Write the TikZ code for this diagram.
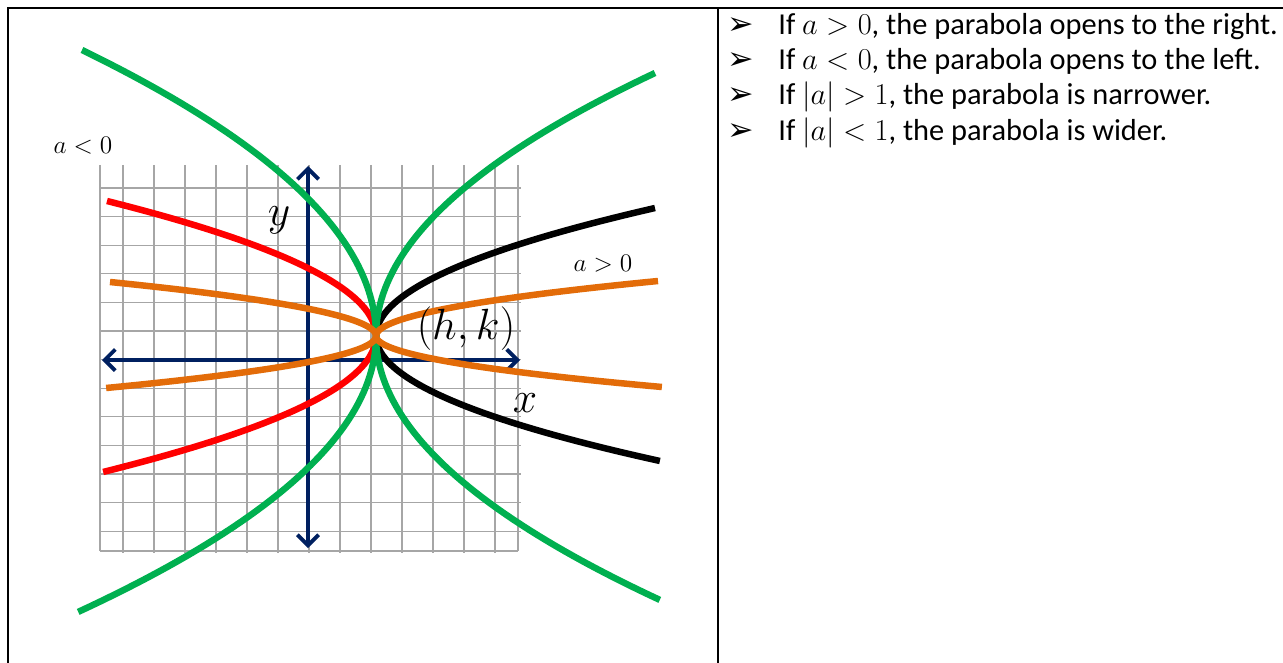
\documentclass[tikz,border=0pt]{standalone}
\usepackage{fontspec}
\setmainfont{Carlito}
\newfontfamily\dejavu{DejaVu Sans}
\usetikzlibrary{arrows.meta,positioning}
\tikzset{>=Stealth}
\definecolor{gridgray}{HTML}{A6A6A6}
\definecolor{axisnavy}{HTML}{002060}
\definecolor{curvegreen}{HTML}{00B050}
\definecolor{curvered}{HTML}{FF0000}
\definecolor{curveorange}{HTML}{E36C09}

\begin{document}
\begin{tikzpicture}[
    x=0.02cm, y=-0.02cm,
    tableline/.style={line width=1.5pt, line cap=rect},
    gridline/.style={draw=gridgray, line width=0.6pt},
    axis/.style={draw=axisnavy, line width=2.2pt, {Straight Barb[length=6pt,width=12pt]}-{Straight Barb[length=6pt,width=12pt]}},
    curve/.style={line width=3.7pt, line join=round},
    biglabel/.style={font=\fontsize{27}{30}\selectfont, inner sep=0pt},
    smalllabel/.style={font=\fontsize{14}{16}\selectfont, inner sep=0pt},
    bullet/.style={font=\dejavu\fontsize{18}{20}\selectfont, anchor=base, inner sep=0pt},
    rowtext/.style={font=\fontsize{17.3}{20}\selectfont, anchor=base west, inner sep=0pt}
]
    \useasboundingbox (0,0) rectangle (1283,662);

    % table frame
    \draw[tableline] (8,670) -- (8,8) -- (1290,8);
    \draw[tableline] (718,8) -- (718,670);

    % grid
    \foreach \gx in {0,...,12}
        \draw[gridline] ({123+31*\gx},165) -- ({123+31*\gx},553);
    \draw[gridline] (100,165) -- (100,551);
    \draw[gridline] (518,165) -- (518,551);
    \foreach \gy in {0,...,12}
        \draw[gridline] (100,{188+28.6*\gy}) -- (521,{188+28.6*\gy});
    \draw[gridline] (100,551) -- (518,551);

    % axes
    \coordinate (xl) at (102,360);
    \coordinate (xr) at (520,360);
    \coordinate (yt) at (308,166);
    \coordinate (yb) at (308,548);
    \draw[axis] (xl) -- (xr);
    \draw[axis] (yb) -- (yt);

    % vertex
    \coordinate (v) at (376,336);

    % curves: x = h + dx*s^2, y = k + dy*s
    \draw[curve, black] plot[domain=1:0, samples=40] ({376+279*\x*\x},{336-128*\x})
        -- plot[domain=0:1, samples=40] ({376+284*\x*\x},{336+125*\x});
    \draw[curve, curvered] plot[domain=1:0, samples=40] ({376-269*\x*\x},{336-135*\x})
        -- plot[domain=0:1, samples=40] ({376-273*\x*\x},{336+136*\x});
    \draw[curve, curvegreen] plot[domain=1:0, samples=50] ({376-294*\x*\x},{336-286*\x})
        -- plot[domain=0:1, samples=50] ({376-298*\x*\x},{336+276*\x});
    \draw[curve, curvegreen] plot[domain=1:0, samples=50] ({376+279*\x*\x},{336-263*\x})
        -- plot[domain=0:1, samples=50] ({376+284*\x*\x},{336+264*\x});
    \draw[curve, curveorange] plot[domain=1:0, samples=40] ({376-266*\x*\x},{336-54*\x})
        -- plot[domain=0:1, samples=40] ({376-270*\x*\x},{336+52*\x});
    \draw[curve, curveorange] plot[domain=1:0, samples=40] ({376+282*\x*\x},{336-55*\x})
        -- plot[domain=0:1, samples=40] ({376+286*\x*\x},{336+51*\x});

    % labels
    \node[biglabel] (ylab) at (279,220) {$y$};
    \node[biglabel] (xlab) at (525,403) {$x$};
    \node[biglabel, font=\fontsize{31}{34}\selectfont] (vlab) at (466,329) {$(h,k)$};
    \node[smalllabel] (neg) at (83,146) {$a<0$};
    \node[smalllabel] (pos) at (603,264) {$a>0$};

    % rules of thumb
    \node[rowtext] (t1) at (778,35) {If $a>0$, the parabola opens to the right.};
    \node[rowtext] (t2) at (778,70) {If $a<0$, the parabola opens to the left.};
    \node[rowtext] (t3) at (778,105) {If $|a|>1$, the parabola is narrower.};
    \node[rowtext] (t4) at (778,141) {If $|a|<1$, the parabola is wider.};
    \foreach \row/\yy in {1/35,2/70,3/105,4/141}
        \node[bullet] (b\row) at (741,\yy) {➢};
\end{tikzpicture}
\end{document}
